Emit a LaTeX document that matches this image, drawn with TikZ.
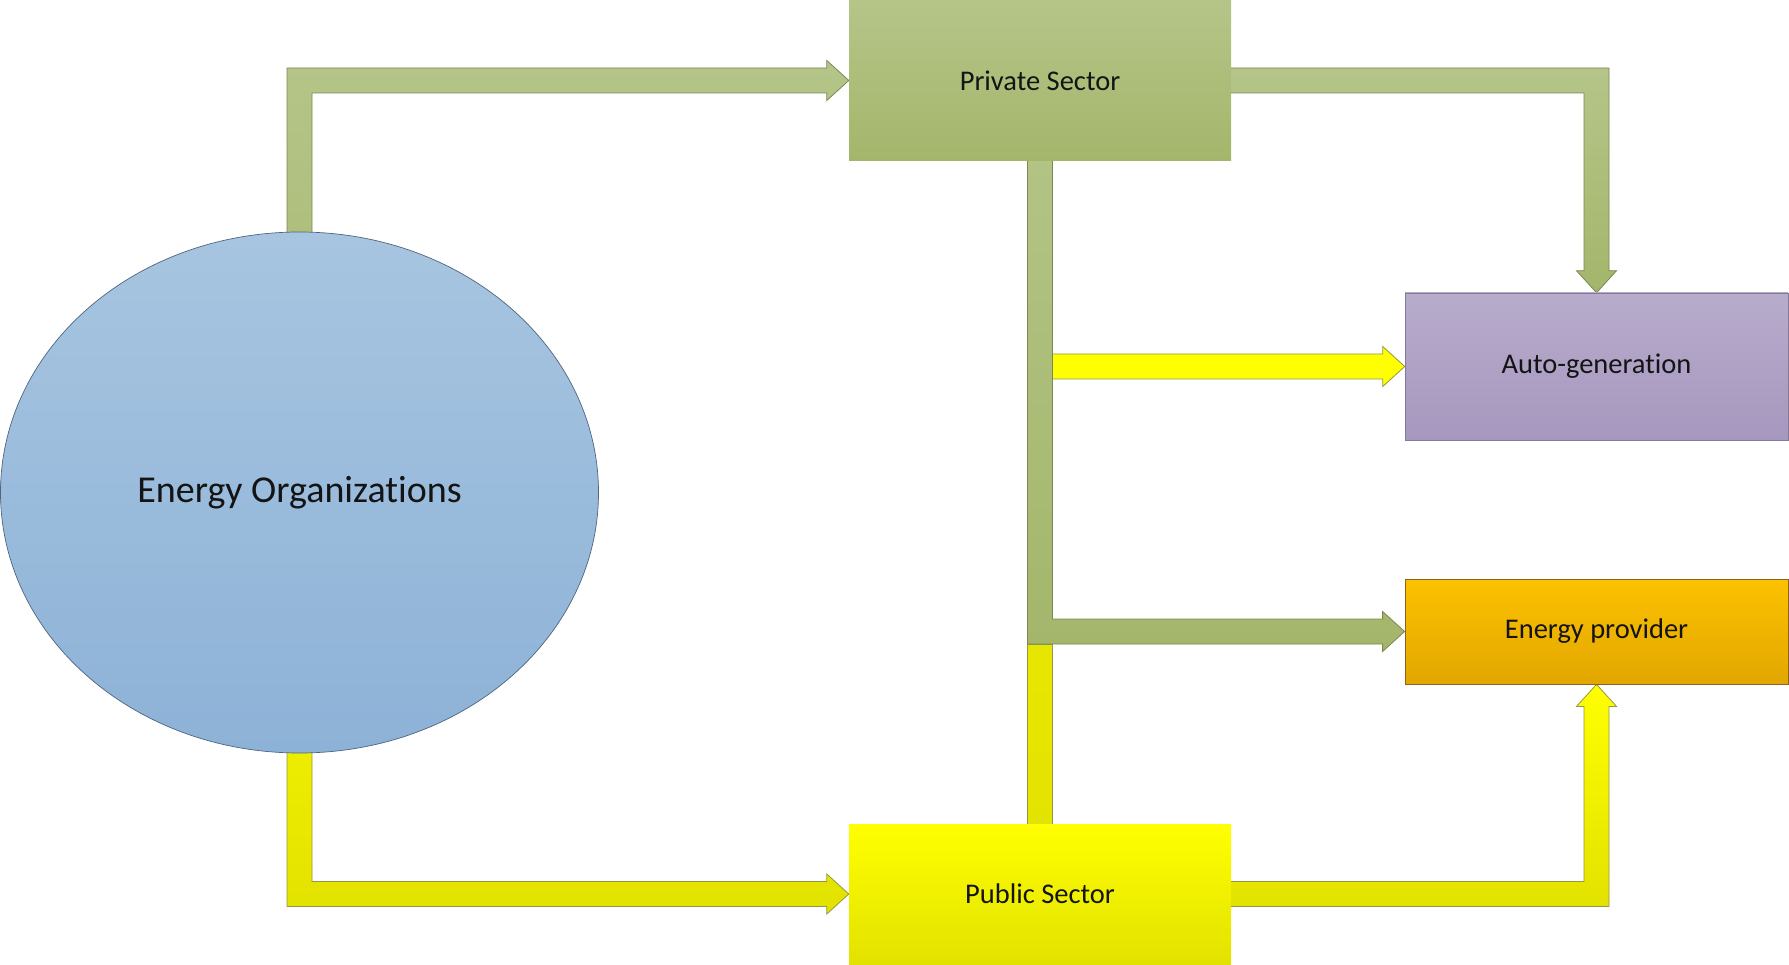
\documentclass[tikz,border=0pt]{standalone}
\usepackage{fontspec}
\setmainfont{Carlito}[Ligatures=NoCommon]
\usetikzlibrary{calc,shapes.geometric,backgrounds}

\definecolor{grnT}{RGB}{181,197,137}
\definecolor{grnB}{RGB}{164,182,107}
\definecolor{grnL}{RGB}{122,136,82}
\definecolor{yelT}{RGB}{255,255,0}
\definecolor{yelB}{RGB}{226,226,0}
\definecolor{yelL}{RGB}{150,150,70}
\definecolor{bluT}{RGB}{167,197,224}
\definecolor{bluB}{RGB}{141,178,215}
\definecolor{bluL}{RGB}{80,100,125}
\definecolor{purT}{RGB}{184,172,204}
\definecolor{purB}{RGB}{166,151,190}
\definecolor{orgT}{RGB}{252,193,0}
\definecolor{orgB}{RGB}{226,167,0}
\definecolor{orgL}{RGB}{140,100,30}
\definecolor{txt}{RGB}{20,20,20}

\tikzset{
  box/.style={rectangle, inner sep=0pt, text=txt,
    font=\fontsize{28.5}{34}\selectfont},
  greenbox/.style={box, top color=grnT, bottom color=grnB},
  yellowbox/.style={box, top color=yelT, bottom color=yelB},
  purplebox/.style={box, top color=purT, bottom color=purB, draw=purB!80!black, line width=0.5pt},
  orangebox/.style={box, top color=orgT, bottom color=orgB, draw=orgL, line width=0.8pt},
  orgcircle/.style={ellipse, inner sep=0pt, text=txt,
    minimum width=598pt, minimum height=521pt,
    top color=bluT, bottom color=bluB, draw=bluL, line width=0.7pt,
    font=\fontsize{38}{44}\selectfont},
  greenarrow/.style={top color=grnT, bottom color=grnB, draw=grnL, line width=0.8pt, line join=miter},
  yellowarrow/.style={top color=yelT, bottom color=yelB, draw=yelL, line width=0.8pt, line join=miter},
  flatyellowarrow/.style={fill=yelT, draw=yelL, line width=0.8pt, line join=miter},
}

\begin{document}
\begin{tikzpicture}[x=1pt,y=-1pt]
\useasboundingbox (0,0) rectangle (1789,965);
\def\bandw{12.5}
\def\headw{20}
\def\headl{22}

% blocks
\node[orgcircle] (org) at (299.5,492.5) {Energy Organizations};
\node[greenbox, minimum width=382pt, minimum height=161pt] (priv) at (1040,80.5) {Private Sector};
\node[yellowbox, minimum width=382pt, minimum height=140pt] (pub) at (1040,894) {Public Sector};
\node[purplebox, minimum width=383pt, minimum height=147pt] (auto) at (1596.5,366.5) {Auto-generation};
\node[orangebox, minimum width=383pt, minimum height=105pt] (prov) at (1596.5,631.5) {Energy provider};

% bends of the block arrows
\coordinate (tl) at (org.north |- priv.west);
\coordinate (tr) at (auto.north |- priv.east);
\coordinate (bl) at (org.south |- pub.west);
\coordinate (br) at (prov.south |- pub.east);
\coordinate (jn) at (priv.south |- prov.west);
\coordinate (ys) at (priv.south |- auto.west);

\begin{scope}[on background layer]
  % Energy Organizations -> Private Sector
  \draw[greenarrow]
    ($(org.center)+(-\bandw,0)$) -- ($(tl)+(-\bandw,-\bandw)$)
    -- ($(priv.west)+(-\headl,-\bandw)$) -- ($(priv.west)+(-\headl,-\headw)$)
    -- (priv.west)
    -- ($(priv.west)+(-\headl,\headw)$) -- ($(priv.west)+(-\headl,\bandw)$)
    -- ($(tl)+(\bandw,\bandw)$) -- ($(org.center)+(\bandw,0)$) -- cycle;

  % Private Sector -> Auto-generation
  \draw[greenarrow]
    ($(priv.center)+(0,-\bandw)$) -- ($(tr)+(\bandw,-\bandw)$)
    -- ($(auto.north)+(\bandw,-\headl)$) -- ($(auto.north)+(\headw,-\headl)$)
    -- (auto.north)
    -- ($(auto.north)+(-\headw,-\headl)$) -- ($(auto.north)+(-\bandw,-\headl)$)
    -- ($(tr)+(-\bandw,\bandw)$) -- ($(priv.center)+(0,\bandw)$) -- cycle;

  % Energy Organizations -> Public Sector
  \draw[yellowarrow]
    ($(org.center)+(-\bandw,0)$) -- ($(bl)+(-\bandw,\bandw)$)
    -- ($(pub.west)+(-\headl,\bandw)$) -- ($(pub.west)+(-\headl,\headw)$)
    -- (pub.west)
    -- ($(pub.west)+(-\headl,-\headw)$) -- ($(pub.west)+(-\headl,-\bandw)$)
    -- ($(bl)+(\bandw,-\bandw)$) -- ($(org.center)+(\bandw,0)$) -- cycle;

  % Public Sector -> Energy provider
  \draw[yellowarrow]
    ($(pub.center)+(0,\bandw)$) -- ($(br)+(\bandw,\bandw)$)
    -- ($(prov.south)+(\bandw,\headl)$) -- ($(prov.south)+(\headw,\headl)$)
    -- (prov.south)
    -- ($(prov.south)+(-\headw,\headl)$) -- ($(prov.south)+(-\bandw,\headl)$)
    -- ($(br)+(-\bandw,-\bandw)$) -- ($(pub.center)+(0,-\bandw)$) -- cycle;

  % trunk branch -> Auto-generation
  \draw[flatyellowarrow]
    ($(ys)+(0,-\bandw)$) -- ($(auto.west)+(-\headl,-\bandw)$)
    -- ($(auto.west)+(-\headl,-\headw)$) -- (auto.west)
    -- ($(auto.west)+(-\headl,\headw)$) -- ($(auto.west)+(-\headl,\bandw)$)
    -- ($(ys)+(0,\bandw)$) -- cycle;

  % yellow trunk rising from Public Sector
  \draw[yellowarrow, top color=yelB!85!yelT, bottom color=yelB]
    ($(jn)+(-\bandw,\bandw)$) rectangle ($(pub.center)+(\bandw,0)$);

  % green trunk from Private Sector -> Energy provider
  \draw[greenarrow]
    ($(priv.center)+(-\bandw,0)$) -- ($(jn)+(-\bandw,\bandw)$)
    -- ($(prov.west)+(-\headl,\bandw)$) -- ($(prov.west)+(-\headl,\headw)$)
    -- (prov.west)
    -- ($(prov.west)+(-\headl,-\headw)$) -- ($(prov.west)+(-\headl,-\bandw)$)
    -- ($(jn)+(\bandw,-\bandw)$) -- ($(priv.center)+(\bandw,0)$) -- cycle;
\end{scope}
\end{tikzpicture}
\end{document}
